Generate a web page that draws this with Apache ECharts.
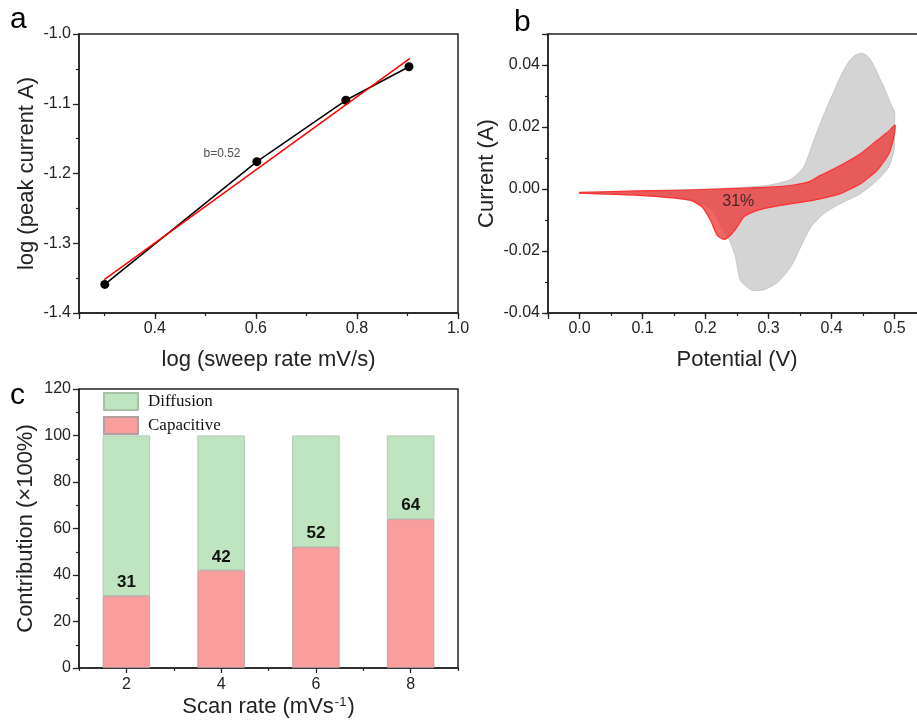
<!DOCTYPE html>
<html>
<head>
<meta charset="utf-8">
<script src="https://cdn.jsdelivr.net/npm/echarts@6/dist/echarts.min.js"></script>
<style>
  html, body { margin: 0; padding: 0; background: #fff; }
  #main { width: 917px; height: 720px; }
</style>
</head>
<body>
<div id="main"></div>
<script>
// panel a : log(peak current) vs log(sweep rate)
const logRate = [0.301, 0.602, 0.778, 0.903]
const logPeak = [-1.359, -1.183, -1.095, -1.047]
const fitLine = [[0.300, -1.352], [0.905, -1.035]]
const slopeNote = [[0.533, -1.171, 'b=0.52']]

// panel b : CV loop (total) and capacitive part
const cvTotal = [
  [0.000,-0.0012],[0.050,-0.0009],[0.100,-0.0006],[0.150,-0.0003],[0.200,0.0000],
  [0.250,0.0004],[0.280,0.0008],[0.303,0.0013],[0.322,0.0022],[0.335,0.0030],
  [0.347,0.0050],[0.356,0.0071],[0.364,0.0110],[0.372,0.0157],[0.382,0.0210],
  [0.393,0.0265],[0.405,0.0320],[0.416,0.0370],[0.428,0.0412],[0.438,0.0432],
  [0.449,0.0438],[0.459,0.0425],[0.468,0.0395],[0.477,0.0355],[0.486,0.0315],
  [0.494,0.0275],[0.500,0.0248],[0.500,0.0205],[0.499,0.0125],[0.491,0.0071],
  [0.4725,0.0028],[0.446,-0.0015],[0.414,-0.0047],[0.388,-0.0079],[0.367,-0.0123],
  [0.351,-0.0187],[0.335,-0.0252],[0.314,-0.0302],[0.2925,-0.0325],[0.274,-0.0327],
  [0.2556,-0.0295],[0.2476,-0.0219],[0.238,-0.0165],[0.2317,-0.0145],[0.221,-0.0105],
  [0.2106,-0.0069],[0.195,-0.0048],[0.170,-0.0035],[0.140,-0.0027],[0.100,-0.0021],
  [0.050,-0.0017],[0.000,-0.0013]
]
const cvCapacitive = [
  [0.000,-0.0011],[0.080,-0.0007],[0.160,-0.0004],[0.240,0.0001],[0.303,0.0006],
  [0.340,0.0013],[0.364,0.0023],[0.3825,0.0044],[0.414,0.0076],[0.446,0.0114],
  [0.4725,0.0157],[0.490,0.0185],[0.501,0.0206],[0.499,0.0168],[0.491,0.0114],
  [0.4725,0.0060],[0.446,0.0017],[0.414,-0.0015],[0.372,-0.0036],[0.319,-0.0053],
  [0.282,-0.0069],[0.261,-0.0090],[0.250,-0.0123],[0.2397,-0.0149],[0.229,-0.0162],
  [0.2185,-0.0149],[0.208,-0.0101],[0.1947,-0.0058],[0.176,-0.0036],[0.134,-0.0026],
  [0.070,-0.0018],[0.000,-0.0013]
]
const percentNote = [[0.252, -0.0042, '31%']]

// panel c : contribution bars
const scanRates = ['2', '4', '6', '8']
const capacitive = [31, 42, 52, 64]
const diffusion = [69, 58, 48, 36]

const FONT = 'Liberation Sans, Arial, sans-serif'
const INK = '#222'

function mainAxis(extra) {
  return Object.assign({
    type: 'value',
    axisLine: { show: true, onZero: false, lineStyle: { color: INK, width: 1.5 } },
    axisTick: { show: true, inside: false, length: 6, lineStyle: { color: INK, width: 1.3 } },
    axisLabel: { color: INK, fontSize: 16, fontFamily: FONT, margin: 8 },
    splitLine: { show: false },
    nameLocation: 'middle',
    nameTextStyle: { color: INK, fontSize: 22, fontFamily: FONT }
  }, extra)
}
function minorAxis(extra) {
  return Object.assign({
    type: 'value',
    axisLine: { show: false, onZero: false },
    axisTick: { show: true, inside: false, length: 3, lineStyle: { color: INK, width: 1.2 } },
    axisLabel: { show: false },
    splitLine: { show: false }
  }, extra)
}
function panelGrid(left, top, width) {
  return { left: left, top: top, width: width, height: 279, show: true, borderColor: INK, borderWidth: 1.5,
    backgroundColor: 'transparent', containLabel: false, outerBoundsMode: 'none' }
}

var chart = echarts.init(document.getElementById('main'))
chart.setOption({
  animation: false,
  backgroundColor: '#fff',
  title: [
    { text: 'a', left: 10, top: 5, padding: 0, textStyle: { fontSize: 30, fontWeight: 'normal', color: '#000', fontFamily: FONT } },
    { text: 'b', left: 514, top: 8, padding: 0, textStyle: { fontSize: 30, fontWeight: 'normal', color: '#000', fontFamily: FONT } },
    { text: 'c', left: 10, top: 381, padding: 0, textStyle: { fontSize: 30, fontWeight: 'normal', color: '#000', fontFamily: FONT } }
  ],
  grid: [panelGrid(79, 34, 379), panelGrid(548, 34, 378), panelGrid(79, 389, 379)],
  legend: {
    orient: 'vertical', left: 103, top: 392, padding: 0,
    itemWidth: 34, itemHeight: 17, itemGap: 5, icon: 'rect',
    data: ['Diffusion', 'Capacitive'],
    textStyle: { fontFamily: 'Liberation Serif, Times New Roman, serif', fontSize: 17, color: '#111', padding: [0, 0, 0, 5] }
  },
  xAxis: [
    mainAxis({ gridIndex: 0, position: 'bottom', min: 0.25, max: 1.0, splitNumber: 4,
      name: 'log (sweep rate mV/s)', nameGap: 36,
      axisLabel: { color: INK, fontSize: 16, fontFamily: FONT, margin: 8,
        formatter: v => v < 0.3 ? '' : v.toFixed(1) } }),
    minorAxis({ gridIndex: 0, position: 'bottom', min: 0.25, max: 1.0, splitNumber: 8 }),
    mainAxis({ gridIndex: 1, position: 'bottom', min: -0.05, max: 0.55, splitNumber: 6,
      name: 'Potential (V)', nameGap: 36,
      axisLabel: { color: INK, fontSize: 16, fontFamily: FONT, margin: 8,
        formatter: v => (v < -0.001 || v > 0.501) ? '' : v.toFixed(1) } }),
    minorAxis({ gridIndex: 1, position: 'bottom', min: -0.05, max: 0.55, interval: 0.05 }),
    {
      type: 'category', gridIndex: 2, position: 'bottom', data: scanRates,
      axisLine: { show: true, onZero: false, lineStyle: { color: INK, width: 1.5 } },
      axisTick: { show: true, alignWithLabel: false, length: 3, lineStyle: { color: INK, width: 1.2 } },
      axisLabel: { color: INK, fontSize: 16, fontFamily: FONT, margin: 9 },
      name: 'Scan rate (mVs{sup|-1})', nameLocation: 'middle', nameGap: 28,
      nameTextStyle: { color: INK, fontSize: 22, fontFamily: FONT,
        rich: { sup: { fontSize: 13, fontFamily: FONT, color: INK, verticalAlign: 'top', padding: [0, 1, 8, 1] } } }
    },
    {
      type: 'category', gridIndex: 2, position: 'bottom', data: scanRates,
      axisLine: { show: false, onZero: false },
      axisTick: { show: true, alignWithLabel: true, length: 5, lineStyle: { color: INK, width: 1.3 } },
      axisLabel: { show: false }
    }
  ],
  yAxis: [
    mainAxis({ gridIndex: 0, position: 'left', min: -1.4, max: -1.0, interval: 0.1,
      name: 'log (peak current A)', nameGap: 41,
      minorTick: { show: true, splitNumber: 2, length: 3, lineStyle: { color: INK, width: 1.2 } },
      axisLabel: { color: INK, fontSize: 16, fontFamily: FONT, margin: 8, formatter: v => v.toFixed(1) } }),
    mainAxis({ gridIndex: 1, position: 'left', min: -0.04, max: 0.05, interval: 0.02,
      name: 'Current (A)', nameGap: 50,
      axisLabel: { color: INK, fontSize: 16, fontFamily: FONT, margin: 8,
        formatter: v => v > 0.041 ? '' : v.toFixed(2) } }),
    minorAxis({ gridIndex: 1, position: 'left', min: -0.04, max: 0.05, interval: 0.01 }),
    mainAxis({ gridIndex: 2, position: 'left', min: 0, max: 120, interval: 20,
      name: 'Contribution (×100%)', nameGap: 42,
      minorTick: { show: true, splitNumber: 2, length: 3, lineStyle: { color: INK, width: 1.2 } } })
  ],
  series: [
    // panel a
    {
      type: 'line', xAxisIndex: 0, yAxisIndex: 0,
      data: logRate.map((x, i) => [x, logPeak[i]]),
      symbol: 'circle', symbolSize: 9,
      lineStyle: { color: '#000', width: 1.5 }, itemStyle: { color: '#000' }, z: 3
    },
    {
      type: 'line', xAxisIndex: 0, yAxisIndex: 0, data: fitLine,
      symbol: 'none', lineStyle: { color: '#f00', width: 1.5 }, z: 4
    },
    {
      type: 'scatter', xAxisIndex: 0, yAxisIndex: 0, data: slopeNote, symbolSize: 0,
      label: { show: true, position: 'inside', formatter: p => p.data[2], color: INK, fontSize: 12, fontFamily: FONT }
    },
    // panel b
    {
      type: 'custom', xAxisIndex: 2, yAxisIndex: 1, data: cvTotal, z: 2,
      renderItem: (params, api) => {
        if (params.dataIndex !== 0) return null
        return {
          type: 'polygon',
          shape: { points: cvTotal.map(p => api.coord(p)), smooth: 0.2 },
          style: { fill: '#d4d4d4', stroke: '#c6c6c6', lineWidth: 1 }
        }
      }
    },
    {
      type: 'custom', xAxisIndex: 2, yAxisIndex: 1, data: cvCapacitive, z: 3,
      renderItem: (params, api) => {
        if (params.dataIndex !== 0) return null
        return {
          type: 'polygon',
          shape: { points: cvCapacitive.map(p => api.coord(p)), smooth: 0.2 },
          style: { fill: 'rgba(238,45,45,0.72)', stroke: '#ff2f2f', lineWidth: 1.2 }
        }
      }
    },
    {
      type: 'scatter', xAxisIndex: 2, yAxisIndex: 1, data: percentNote, symbolSize: 0, z: 5,
      label: { show: true, position: 'inside', formatter: p => p.data[2], color: '#1a1a1a', fontSize: 16, fontFamily: FONT }
    },
    // panel c
    {
      name: 'Capacitive', type: 'bar', xAxisIndex: 4, yAxisIndex: 3, stack: 'total',
      data: capacitive, barWidth: '50%', z: 3,
      itemStyle: { color: '#f99d9d', borderColor: '#b0a0a0', borderWidth: 0.8 },
      label: { show: true, position: 'top', distance: 5, color: '#111', fontSize: 17, fontWeight: 'bold', fontFamily: FONT }
    },
    {
      name: 'Diffusion', type: 'bar', xAxisIndex: 4, yAxisIndex: 3, stack: 'total',
      data: diffusion, barWidth: '50%', z: 2,
      itemStyle: { color: '#bfe5c0', borderColor: '#a8bfa8', borderWidth: 0.8 }
    }
  ]
})
</script>
</body>
</html>
